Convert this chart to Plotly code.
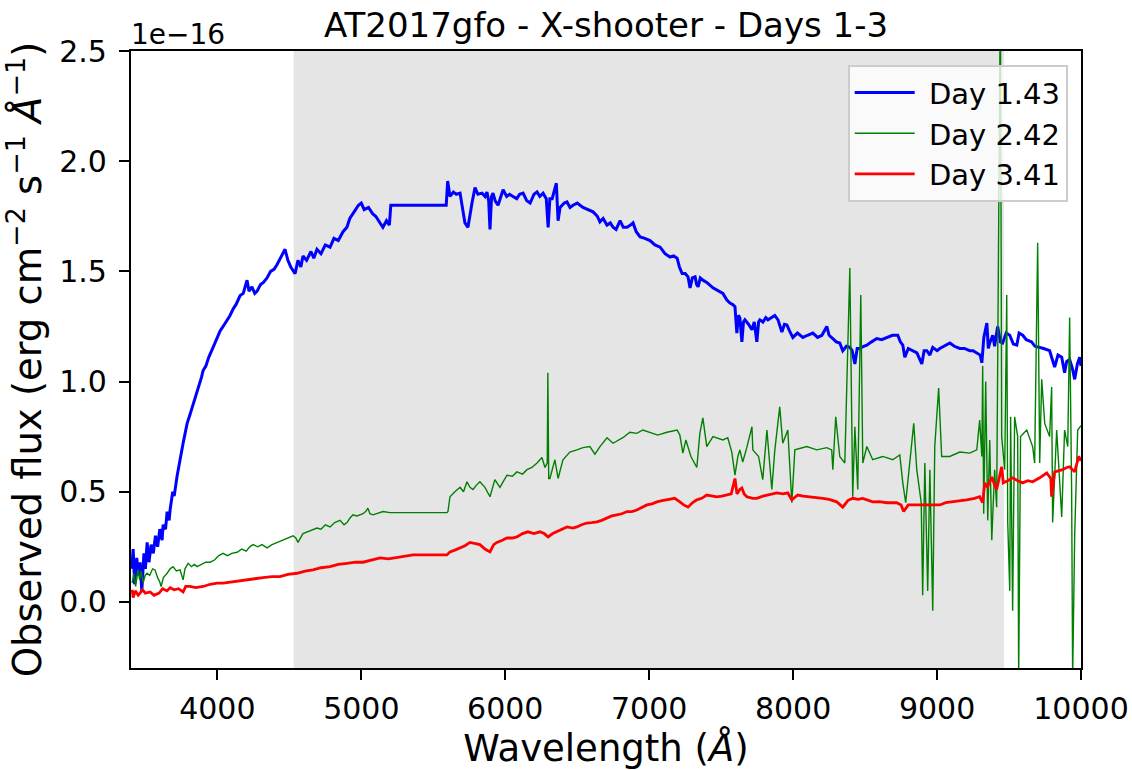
import plotly.graph_objects as go

# ---------------- data (flux in units of 1e-16 erg cm^-2 s^-1 A^-1) ----------------
day1_wl = [3405, 3415, 3425, 3440, 3450, 3463, 3475, 3490, 3500, 3512, 3525, 3540, 3555, 3570, 3585,
           3600, 3616, 3623, 3640, 3651, 3665, 3672, 3690, 3700, 3720, 3730, 3745, 3762, 3775, 3790,
           3810, 3825, 3840, 3859, 3875, 3890, 3901, 3920, 3940, 3963, 3980, 4000, 4019, 4040, 4060,
           4088, 4110, 4130, 4158, 4180, 4206, 4220, 4240, 4260, 4276, 4300, 4320, 4345, 4370, 4395,
           4414, 4440, 4470, 4490, 4510, 4540, 4560, 4580, 4595, 4620, 4650, 4670, 4692, 4720, 4750,
           4783, 4810, 4840, 4873, 4900, 4920, 4950, 4980, 5000, 5020, 5050, 5080, 5100, 5130, 5150,
           5175, 5195, 5205, 5590, 5600, 5616, 5640, 5660, 5686, 5700, 5707, 5720, 5741, 5755, 5769,
           5790, 5810, 5839, 5860, 5873, 5885, 5894, 5905, 5915, 5930, 5950, 5970, 5985, 6010, 6030,
           6054, 6080, 6100, 6124, 6150, 6173, 6200, 6221, 6240, 6263, 6285, 6298, 6310, 6326, 6355,
           6367, 6381, 6410, 6429, 6450, 6471, 6500, 6540, 6575, 6610, 6640, 6658, 6680, 6707, 6730,
           6749, 6770, 6798, 6820, 6846, 6870, 6888, 6910, 6937, 6970, 7006, 7040, 7076, 7110, 7145,
           7170, 7194, 7210, 7229, 7250, 7270, 7284, 7300, 7319, 7330, 7340, 7355, 7373, 7400, 7443,
           7480, 7512, 7540, 7561, 7580, 7596, 7609, 7620, 7630, 7644, 7655, 7665, 7690, 7714, 7730,
           7748, 7760, 7769, 7790, 7810, 7825, 7850, 7873, 7895, 7922, 7940, 7957, 7975, 7998, 8030,
           8068, 8100, 8137, 8170, 8200, 8234, 8250, 8276, 8300, 8324, 8345, 8370, 8394, 8410, 8429,
           8445, 8463, 8490, 8512, 8545, 8581, 8615, 8651, 8690, 8727, 8745, 8762, 8776, 8800, 8831,
           8860, 8894, 8910, 8929, 8950, 8970, 9000, 9019, 9050, 9089, 9120, 9158, 9190, 9227, 9250,
           9276, 9300, 9311, 9325, 9346, 9356, 9366, 9387, 9400, 9421, 9440, 9456, 9480, 9505, 9530,
           9554, 9570, 9595, 9620, 9657, 9680, 9713, 9740, 9782, 9800, 9817, 9840, 9866, 9886, 9900,
           9921, 9940, 9956, 9975, 9991, 10000]
day1_flux = [0.15, 0.24, 0.08, 0.20, 0.12, 0.18, 0.05, 0.22, 0.15, 0.27, 0.18, 0.26, 0.22, 0.30, 0.25,
             0.33, 0.28, 0.35, 0.33, 0.41, 0.37, 0.42, 0.50, 0.48, 0.57, 0.60, 0.66, 0.72, 0.77, 0.81,
             0.85, 0.88, 0.91, 0.95, 0.98, 1.02, 1.05, 1.07, 1.11, 1.15, 1.17, 1.20, 1.23, 1.25, 1.27,
             1.30, 1.33, 1.35, 1.39, 1.40, 1.46, 1.41, 1.43, 1.40, 1.41, 1.44, 1.45, 1.47, 1.50, 1.51,
             1.53, 1.56, 1.60, 1.55, 1.52, 1.49, 1.55, 1.52, 1.57, 1.55, 1.59, 1.56, 1.60, 1.58, 1.62,
             1.61, 1.65, 1.64, 1.68, 1.70, 1.74, 1.77, 1.80, 1.81, 1.78, 1.79, 1.76, 1.75, 1.72, 1.70,
             1.73, 1.71, 1.80, 1.80, 1.91, 1.84, 1.86, 1.85, 1.855, 1.80, 1.79, 1.72, 1.70, 1.76, 1.81,
             1.88, 1.85, 1.855, 1.84, 1.86, 1.82, 1.69, 1.84, 1.855, 1.82, 1.80, 1.84, 1.87, 1.84, 1.85,
             1.84, 1.83, 1.85, 1.855, 1.82, 1.81, 1.85, 1.86, 1.84, 1.855, 1.83, 1.70, 1.83, 1.83, 1.90,
             1.73, 1.79, 1.81, 1.815, 1.79, 1.80, 1.81, 1.79, 1.78, 1.77, 1.75, 1.725, 1.74, 1.71, 1.72,
             1.70, 1.69, 1.73, 1.70, 1.70, 1.71, 1.72, 1.68, 1.656, 1.65, 1.64, 1.62, 1.61, 1.58, 1.565,
             1.57, 1.56, 1.52, 1.49, 1.49, 1.475, 1.425, 1.47, 1.475, 1.44, 1.43, 1.47, 1.46, 1.45, 1.425,
             1.41, 1.40, 1.37, 1.356, 1.35, 1.34, 1.22, 1.30, 1.29, 1.18, 1.27, 1.28, 1.26, 1.235, 1.27,
             1.18, 1.27, 1.28, 1.27, 1.29, 1.28, 1.29, 1.30, 1.28, 1.225, 1.26, 1.257, 1.23, 1.20, 1.22,
             1.20, 1.21, 1.22, 1.20, 1.21, 1.25, 1.21, 1.195, 1.18, 1.175, 1.14, 1.16, 1.155, 1.14, 1.08,
             1.15, 1.15, 1.16, 1.165, 1.18, 1.195, 1.19, 1.20, 1.21, 1.21, 1.18, 1.165, 1.11, 1.15, 1.14,
             1.13, 1.08, 1.14, 1.14, 1.12, 1.155, 1.14, 1.15, 1.16, 1.175, 1.16, 1.15, 1.15, 1.14, 1.14,
             1.13, 1.12, 1.085, 1.20, 1.265, 1.15, 1.175, 1.21, 1.16, 1.25, 1.18, 1.175, 1.22, 1.21, 1.17,
             1.165, 1.22, 1.21, 1.19, 1.18, 1.16, 1.155, 1.15, 1.14, 1.10, 1.066, 1.12, 1.11, 1.04, 1.09,
             1.10, 1.06, 1.01, 1.08, 1.11, 1.07]

day2_wl = [3408, 3420, 3432, 3449, 3460, 3470, 3484, 3498, 3512, 3530, 3550, 3567, 3585, 3600, 3609,
           3625, 3651, 3672, 3692, 3715, 3741, 3755, 3762, 3775, 3797, 3820, 3840, 3859, 3890, 3920,
           3949, 3980, 4010, 4040, 4070, 4100, 4137, 4170, 4200, 4225, 4248, 4280, 4310, 4345, 4380,
           4415, 4450, 4480, 4526, 4545, 4560, 4595, 4630, 4665, 4692, 4720, 4750, 4783, 4815, 4852,
           4880, 4901, 4920, 4942, 4970, 5012, 5030, 5046, 5060, 5081, 5110, 5151, 5199, 5595, 5602,
           5616, 5650, 5686, 5710, 5734, 5755, 5776, 5800, 5824, 5859, 5894, 5928, 5963, 5990, 6012,
           6050, 6081, 6120, 6151, 6185, 6221, 6255, 6276, 6292, 6296, 6302, 6310, 6345, 6367, 6401,
           6449, 6498, 6540, 6588, 6623, 6658, 6707, 6749, 6817, 6866, 6914, 6956, 7006, 7060, 7123,
           7194, 7213, 7234, 7255, 7270, 7290, 7331, 7352, 7373, 7400, 7443, 7512, 7546, 7574, 7596,
           7616, 7630, 7650, 7678, 7714, 7720, 7760, 7789, 7818, 7852, 7873, 7907, 7928, 7963, 7991,
           8012, 8095, 8164, 8234, 8268, 8276, 8296, 8324, 8359, 8394, 8414, 8429, 8449, 8470, 8484,
           8512, 8553, 8623, 8692, 8741, 8762, 8782, 8810, 8838, 8859, 8890, 8900, 8915, 8935, 8950,
           8970, 8984, 9011, 9032, 9088, 9158, 9227, 9276, 9296, 9311, 9317, 9324, 9338, 9352, 9366,
           9380, 9400, 9414, 9440, 9449, 9470, 9484, 9491, 9505, 9511, 9525, 9539, 9560, 9567, 9580,
           9623, 9664, 9678, 9699, 9713, 9727, 9748, 9782, 9796, 9803, 9831, 9866, 9886, 9908, 9921,
           9935, 9942, 9956, 9977, 10000]
day2_flux = [0.086, 0.13, 0.07, 0.145, 0.10, 0.14, 0.085, 0.12, 0.13, 0.12, 0.15, 0.145, 0.11, 0.09, 0.07,
             0.11, 0.13, 0.15, 0.16, 0.14, 0.145, 0.12, 0.10, 0.15, 0.175, 0.16, 0.17, 0.16, 0.17, 0.18,
             0.18, 0.19, 0.21, 0.22, 0.21, 0.22, 0.225, 0.24, 0.23, 0.25, 0.26, 0.25, 0.26, 0.245, 0.26,
             0.27, 0.28, 0.29, 0.30, 0.29, 0.27, 0.31, 0.32, 0.33, 0.335, 0.33, 0.35, 0.34, 0.36, 0.37,
             0.35, 0.36, 0.38, 0.395, 0.39, 0.40, 0.41, 0.425, 0.40, 0.395, 0.40, 0.41, 0.405, 0.405, 0.41,
             0.477, 0.50, 0.52, 0.50, 0.545, 0.52, 0.51, 0.53, 0.545, 0.52, 0.477, 0.555, 0.52, 0.55, 0.575,
             0.57, 0.59, 0.58, 0.60, 0.61, 0.63, 0.655, 0.61, 0.63, 1.04, 0.56, 0.56, 0.645, 0.56, 0.645,
             0.68, 0.69, 0.70, 0.705, 0.67, 0.705, 0.745, 0.72, 0.745, 0.77, 0.765, 0.78, 0.77, 0.757, 0.77,
             0.78, 0.757, 0.675, 0.735, 0.70, 0.66, 0.61, 0.765, 0.835, 0.705, 0.75, 0.735, 0.745, 0.68, 0.575,
             0.66, 0.69, 0.635, 0.70, 0.795, 0.69, 0.66, 0.555, 0.78, 0.51, 0.69, 0.885, 0.72, 0.78, 0.45,
             0.69, 0.705, 0.69, 0.70, 0.69, 0.60, 0.84, 0.66, 0.63, 1.515, 0.477, 0.795, 0.51, 1.393, 0.63,
             0.705, 0.645, 0.66, 0.645, 0.667, 0.54, 0.45, 0.63, 0.81, 0.60, 0.45, 0.03, 0.63, 0.05, 0.60,
             -0.04, 0.705, 0.97, 0.66, 0.66, 0.68, 0.675, 0.69, 0.825, 0.66, 1.07, 0.40, 1.00, 0.37, 0.735,
             0.28, 0.60, 0.43, 2.8, 0.75, 0.60, 1.393, 0.36, 0.05, 0.84, -0.04, 0.84, 0.75, -0.35, 0.75,
             0.78, 0.705, 0.63, 1.63, 0.63, 1.01, 0.81, 0.75, 0.975, 0.36, 0.78, 0.385, 0.78, 0.705, 1.29,
             0.50, -0.35, 0.30, 0.78, 0.80]

day3_wl = [3408, 3415, 3430, 3450, 3463, 3480, 3500, 3533, 3560, 3595, 3620, 3650, 3672, 3700, 3730,
           3762, 3780, 3810, 3850, 3901, 3950, 3998, 4040, 4088, 4150, 4206, 4260, 4317, 4380, 4435,
           4490, 4553, 4610, 4665, 4720, 4783, 4840, 4901, 4960, 5012, 5070, 5130, 5190, 5248, 5300,
           5359, 5595, 5616, 5650, 5686, 5720, 5755, 5790, 5824, 5859, 5894, 5920, 5942, 5980, 6012,
           6050, 6081, 6120, 6158, 6200, 6241, 6270, 6298, 6330, 6360, 6400, 6429, 6470, 6498, 6530,
           6567, 6600, 6637, 6670, 6707, 6740, 6776, 6810, 6846, 6880, 6914, 6937, 6984, 7020, 7053,
           7090, 7123, 7150, 7178, 7213, 7240, 7270, 7300, 7331, 7365, 7400, 7435, 7470, 7505, 7539,
           7570, 7596, 7610, 7630, 7644, 7660, 7678, 7720, 7748, 7790, 7825, 7860, 7887, 7930, 7963,
           7991, 8032, 8070, 8116, 8160, 8206, 8250, 8303, 8345, 8380, 8414, 8450, 8484, 8520, 8553,
           8600, 8651, 8720, 8750, 8768, 8800, 8850, 8929, 9019, 9060, 9109, 9160, 9206, 9260, 9296,
           9317, 9331, 9350, 9380, 9400, 9414, 9449, 9460, 9490, 9525, 9560, 9595, 9630, 9664, 9713,
           9762, 9790, 9796, 9817, 9873, 9900, 9921, 9956, 9984, 10000]
day3_flux = [0.055, 0.02, 0.05, 0.03, 0.04, 0.055, 0.04, 0.045, 0.03, 0.04, 0.06, 0.05, 0.064, 0.055, 0.06,
             0.045, 0.07, 0.07, 0.065, 0.07, 0.08, 0.085, 0.085, 0.09, 0.095, 0.10, 0.105, 0.11, 0.115, 0.115,
             0.125, 0.13, 0.14, 0.145, 0.155, 0.16, 0.17, 0.175, 0.18, 0.18, 0.19, 0.20, 0.195, 0.20, 0.205,
             0.213, 0.213, 0.227, 0.235, 0.245, 0.255, 0.27, 0.265, 0.26, 0.24, 0.227, 0.26, 0.27, 0.28, 0.29,
             0.29, 0.295, 0.31, 0.318, 0.31, 0.318, 0.31, 0.295, 0.31, 0.318, 0.33, 0.34, 0.335, 0.34, 0.35,
             0.358, 0.36, 0.363, 0.37, 0.38, 0.39, 0.395, 0.40, 0.41, 0.41, 0.417, 0.425, 0.44, 0.445, 0.454,
             0.46, 0.463, 0.465, 0.47, 0.454, 0.44, 0.43, 0.45, 0.463, 0.47, 0.485, 0.48, 0.477, 0.48, 0.485,
             0.49, 0.56, 0.49, 0.51, 0.517, 0.49, 0.477, 0.47, 0.47, 0.48, 0.485, 0.49, 0.495, 0.49, 0.495,
             0.463, 0.485, 0.48, 0.477, 0.475, 0.47, 0.465, 0.454, 0.43, 0.46, 0.47, 0.465, 0.47, 0.46, 0.454,
             0.455, 0.45, 0.45, 0.44, 0.41, 0.44, 0.44, 0.44, 0.44, 0.45, 0.454, 0.46, 0.463, 0.47, 0.477,
             0.45, 0.54, 0.52, 0.567, 0.53, 0.51, 0.613, 0.54, 0.55, 0.563, 0.55, 0.54, 0.55, 0.545, 0.563,
             0.585, 0.56, 0.477, 0.59, 0.60, 0.61, 0.613, 0.59, 0.66, 0.64]

series_names = ["Day 1.43", "Day 2.42", "Day 3.41"]
series_colors = ["#0000ff", "#008000", "#ff0000"]
shade_range = [4530, 9465]
x_range = [3400, 10000]
y_range = [-0.3, 2.5]
x_ticks = [4000, 5000, 6000, 7000, 8000, 9000, 10000]
y_ticks = [0.0, 0.5, 1.0, 1.5, 2.0, 2.5]

FONT = "DejaVu Sans"

fig = go.Figure()
widths = [3.0, 1.4, 2.8]
for i, (wl, fl) in enumerate([(day1_wl, day1_flux), (day2_wl, day2_flux), (day3_wl, day3_flux)]):
    fig.add_trace(go.Scatter(x=wl, y=fl, mode="lines", name="\u00a0" + series_names[i],
                             legendgroup=f"g{i}",
                             line=dict(color=series_colors[i], width=widths[i])))

fig.add_vrect(x0=shade_range[0], x1=shade_range[1], fillcolor="#e5e5e5", opacity=1,
              line_width=0, layer="below")

axis_common = dict(showline=True, linecolor="black", linewidth=2.2, mirror=True,
                   ticks="outside", ticklen=10, tickwidth=2.2, tickcolor="black",
                   showgrid=False, zeroline=False,
                   tickfont=dict(family=FONT, size=30, color="black"))

fig.update_xaxes(range=x_range, tickvals=x_ticks, ticktext=[str(v) for v in x_ticks],
                 title=dict(text="Wavelength (<i>Å</i>)", font=dict(family=FONT, size=37, color="black"),
                            standoff=12),
                 ticklabelstandoff=3, **axis_common)
fig.update_yaxes(range=y_range, tickvals=y_ticks, ticktext=[f"{v:.1f}" for v in y_ticks],
                 title=dict(text="Observed flux (erg cm<sup>−2</sup> s<sup>−1</sup> <i>Å</i><sup>−1</sup>)",
                            font=dict(family=FONT, size=38.5, color="black"), standoff=10),
                 ticklabelstandoff=6, **axis_common)

fig.add_annotation(text="1e−16", xref="paper", yref="paper", x=0, y=1, xanchor="left",
                   yanchor="bottom", showarrow=False, xshift=-2, yshift=-2,
                   font=dict(family=FONT, size=28, color="black"))

fig.update_layout(
    width=1132, height=770,
    margin=dict(l=131, r=51, t=51, b=102, autoexpand=False),
    paper_bgcolor="white", plot_bgcolor="white",
    title=dict(text="AT2017gfo - X-shooter - Days 1-3", x=0.5, xref="paper",
               y=1 - 25 / 770, yref="container", yanchor="middle",
               font=dict(family=FONT, size=34, color="black")),
    legend=dict(x=0.986, y=0.977, xanchor="right", yanchor="top",
                bgcolor="rgba(255,255,255,0.8)", bordercolor="#cccccc", borderwidth=2,
                font=dict(family=FONT, size=29, color="black"),
                itemwidth=60, tracegroupgap=0, traceorder="grouped"),
    showlegend=True,
)

fig.write_html("out.html", config={"displayModeBar": False},
               post_script="document.body.style.margin='0px';")
